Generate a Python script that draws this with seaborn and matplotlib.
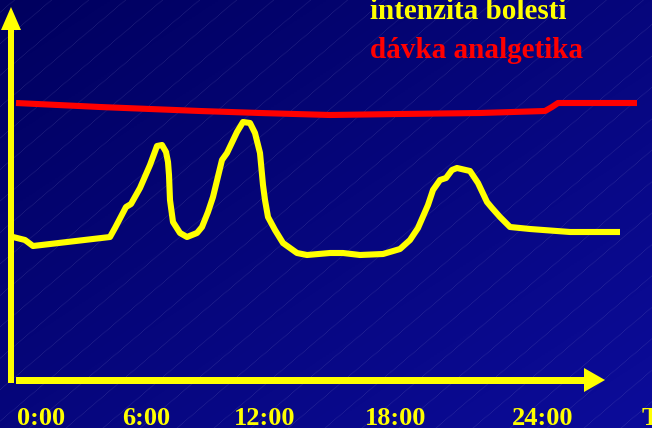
import numpy as np
import pandas as pd
import matplotlib
matplotlib.use('Agg')
import matplotlib.pyplot as plt
import seaborn as sns

# Data (x = position along the time axis, y = height)
pain_x = [13, 25, 33, 110, 115, 126, 131, 140, 150, 157, 162, 166, 168, 169, 170,
          173, 180, 187, 197, 202, 208, 213, 222, 227, 237, 243, 250, 255, 260, 263,
          265, 268, 275, 283, 297, 307, 330, 343, 360, 383, 400, 410, 418, 428, 433,
          440, 446, 452, 457, 470, 478, 487, 492, 500, 510, 530, 570, 620]
pain_y = [191, 188, 182, 191, 200, 221, 224, 240, 263, 282, 283, 276, 266, 253, 228,
          206, 195, 191, 195, 201, 216, 231, 268, 275, 296, 306, 305, 295, 275, 243,
          228, 211, 198, 185, 175, 173, 175, 175, 173, 174, 179, 188, 200, 223, 238,
          248, 250, 258, 260, 257, 245, 226, 220, 211, 201, 199, 196, 196]

dose_x = [16, 100, 200, 260, 330, 400, 480, 545, 552, 558, 637]
dose_y = [325, 321, 317, 315, 313, 314, 315, 317, 321, 325, 325]

tick_labels = ['0:00', '6:00', '12:00', '18:00', '24:00']
tick_pos = [41, 146, 265, 396, 543]

legend_labels = ['intenzita bolesti', 'dávka analgetika']

W, H = 652, 428
yellow = '#ffff00'
red = '#ff0000'

sns.set_theme(style='white')
plt.rcParams['font.family'] = ['Liberation Serif', 'DejaVu Serif']

fig = plt.figure(figsize=(W / 100, H / 100), dpi=100)
ax = fig.add_axes([0, 0, 1, 1])

# blue gradient background, darker top-left, lighter bottom-right
gx, gy = np.meshgrid(np.linspace(0, 1, 200), np.linspace(0, 1, 200))
t = (gx + gy) / 2
c0 = np.array([0x00, 0x00, 0x5e]) / 255
c1 = np.array([0x0c, 0x0c, 0x9a]) / 255
grad = c0 + (c1 - c0) * t[..., None]
ax.imshow(grad, extent=[0, W, 0, H], origin='upper', aspect='auto', zorder=0)

# faint diagonal texture lines
for x0 in np.arange(-600, W + 40, 37):
    xs = np.array([x0, x0 + 600])
    ax.plot(xs, (xs - x0) * 0.85, color='#a0a0d8', lw=0.5, alpha=0.3,
            ls=(0, (1, 1)), zorder=1)

# curves
df_pain = pd.DataFrame({'x': pain_x, 'y': pain_y})
df_dose = pd.DataFrame({'x': dose_x, 'y': dose_y})
sns.lineplot(data=df_dose, x='x', y='y', ax=ax, color=red, linewidth=4.4,
             sort=False, zorder=3)
sns.lineplot(data=df_pain, x='x', y='y', ax=ax, color=yellow, linewidth=4.4,
             sort=False, zorder=4)
for ln in ax.lines[-2:]:
    ln.set_solid_capstyle('butt')
    ln.set_solid_joinstyle('round')
ax.set_xlim(0, W)
ax.set_ylim(0, H)
ax.axis('off')

# yellow axis arrows
ax.fill([8, 14, 14, 8], [45, 45, 399, 399], color=yellow, lw=0, zorder=5)
ax.fill([1, 21, 11], [398, 398, 421], color=yellow, lw=0, zorder=5)
ax.fill([16, 585, 585, 16], [44, 44, 51, 51], color=yellow, lw=0, zorder=5)
ax.fill([584, 584, 605], [36, 60, 48], color=yellow, lw=0, zorder=5)

# time labels
for lab, xp in zip(tick_labels, tick_pos):
    ax.text(xp, 3, lab, color=yellow, fontsize=19, fontweight='bold',
            ha='center', va='baseline', zorder=6)
ax.text(642, 3, 'T', color=yellow, fontsize=19, fontweight='bold',
        ha='left', va='baseline', zorder=6)

# legend texts
ax.text(370, 409, legend_labels[0], color=yellow, fontsize=21, fontweight='bold',
        ha='left', va='baseline', zorder=6)
ax.text(370, 370, legend_labels[1], color=red, fontsize=21, fontweight='bold',
        ha='left', va='baseline', zorder=6)

fig.savefig('out.png', dpi=100)
